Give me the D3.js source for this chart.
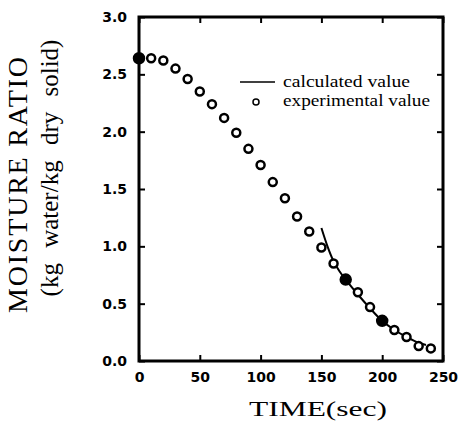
<!DOCTYPE html>
<html>
<head>
<meta charset="utf-8">
<script src="https://cdn.jsdelivr.net/npm/d3@7"></script>
<style>
  body { margin: 0; background: #fff; }
  svg { display: block; }
</style>
</head>
<body>
<div id="chart"></div>
<script>
'use strict';

// experimental points
var expTime = [0, 10, 20, 30, 40, 50, 60, 70, 80, 90, 100, 110, 120,
  130, 140, 150, 160, 170, 180, 190, 200, 210, 220, 230, 240];
var expMoisture = [2.64, 2.64, 2.62, 2.55, 2.46, 2.35, 2.24, 2.12, 1.99, 1.85, 1.71, 1.56, 1.42,
  1.26, 1.13, 0.99, 0.85, 0.71, 0.60, 0.47, 0.35, 0.27, 0.21, 0.13, 0.11];
var expFilled = [true, false, false, false, false, false, false, false, false, false, false, false, false,
  false, false, false, false, true, false, false, true, false, false, false, false];

// calculated curve
var calcTime = [150, 155, 160, 165, 170, 180, 190, 200, 210, 220, 230, 236];
var calcMoisture = [1.16, 1.0, 0.87, 0.78, 0.71, 0.58, 0.46, 0.35, 0.27, 0.21, 0.16, 0.14];

var xTicks = [0, 50, 100, 150, 200, 250];
var yTicks = [0.0, 0.5, 1.0, 1.5, 2.0, 2.5, 3.0];

var W = 458, H = 422;
var plotLeft = 139, plotRight = 443, plotTop = 17, plotBottom = 361;

var svg = d3.select('#chart')
  .append('svg')
  .attr('width', W)
  .attr('height', H);

var x = d3.scaleLinear().domain([0, 250]).range([plotLeft, plotRight]);
var y = d3.scaleLinear().domain([0, 3]).range([plotBottom, plotTop]);

var tickFont = '"DejaVu Sans", sans-serif';
var serif = '"Liberation Serif", "DejaVu Serif", serif';

// inward ticks on all four sides
svg.append('g')
  .attr('transform', 'translate(0,' + plotBottom + ')')
  .call(d3.axisBottom(x).tickValues(xTicks).tickSizeInner(-6).tickSizeOuter(0).tickPadding(11)
    .tickFormat(d3.format('d')))
  .call(function(g) { g.select('.domain').remove(); });

svg.append('g')
  .attr('transform', 'translate(0,' + plotTop + ')')
  .call(d3.axisTop(x).tickValues(xTicks).tickSizeInner(-6).tickSizeOuter(0).tickFormat(''))
  .call(function(g) { g.select('.domain').remove(); });

svg.append('g')
  .attr('transform', 'translate(' + plotLeft + ',0)')
  .call(d3.axisLeft(y).tickValues(yTicks).tickSizeInner(-6).tickSizeOuter(0).tickPadding(12)
    .tickFormat(d3.format('.1f')))
  .call(function(g) { g.select('.domain').remove(); });

svg.append('g')
  .attr('transform', 'translate(' + plotRight + ',0)')
  .call(d3.axisRight(y).tickValues(yTicks).tickSizeInner(-6).tickSizeOuter(0).tickFormat(''))
  .call(function(g) { g.select('.domain').remove(); });

svg.selectAll('.tick line')
  .attr('stroke', '#000')
  .attr('stroke-width', 2);

svg.selectAll('.tick text')
  .attr('fill', '#000')
  .style('font-family', tickFont)
  .style('font-size', '14px')
  .style('font-weight', 'bold');

// frame
svg.append('rect')
  .attr('x', plotLeft)
  .attr('y', plotTop)
  .attr('width', plotRight - plotLeft)
  .attr('height', plotBottom - plotTop)
  .attr('fill', 'none')
  .attr('stroke', '#000')
  .attr('stroke-width', 3);

// calculated line
var line = d3.line()
  .x(function(d, i) { return x(calcTime[i]); })
  .y(function(d) { return y(d); })
  .curve(d3.curveMonotoneX);

svg.append('path')
  .datum(calcMoisture)
  .attr('d', line)
  .attr('fill', 'none')
  .attr('stroke', '#000')
  .attr('stroke-width', 2);

// experimental points
svg.selectAll('circle.exp')
  .data(expMoisture)
  .enter()
  .append('circle')
  .attr('class', 'exp')
  .attr('cx', function(d, i) { return x(expTime[i]); })
  .attr('cy', function(d) { return y(d); })
  .attr('r', function(d, i) { return expFilled[i] ? 5 : 4; })
  .attr('fill', function(d, i) { return expFilled[i] ? '#000' : '#fff'; })
  .attr('stroke', '#000')
  .attr('stroke-width', 2.5);

// legend
svg.append('line')
  .attr('x1', 240).attr('x2', 275)
  .attr('y1', 82).attr('y2', 82)
  .attr('stroke', '#000')
  .attr('stroke-width', 1.5);

svg.append('circle')
  .attr('cx', 256).attr('cy', 102)
  .attr('r', 3)
  .attr('fill', 'none')
  .attr('stroke', '#000')
  .attr('stroke-width', 1.5);

svg.append('text')
  .attr('x', 283).attr('y', 87)
  .attr('textLength', 127)
  .attr('lengthAdjust', 'spacingAndGlyphs')
  .style('font-family', serif)
  .style('font-size', '17px')
  .text('calculated value');

svg.append('text')
  .attr('x', 283).attr('y', 106)
  .attr('textLength', 147)
  .attr('lengthAdjust', 'spacingAndGlyphs')
  .style('font-family', serif)
  .style('font-size', '17px')
  .text('experimental value');

// axis titles
svg.append('text')
  .attr('x', 318).attr('y', 416)
  .attr('text-anchor', 'middle')
  .attr('textLength', 138)
  .attr('lengthAdjust', 'spacingAndGlyphs')
  .style('font-family', serif)
  .style('font-size', '22px')
  .text('TIME(sec)');

svg.append('text')
  .attr('transform', 'translate(27,185) rotate(-90)')
  .attr('text-anchor', 'middle')
  .attr('textLength', 256)
  .attr('lengthAdjust', 'spacing')
  .style('font-family', serif)
  .style('font-size', '28px')
  .text('MOISTURE RATIO');

svg.append('text')
  .attr('transform', 'translate(58,168) rotate(-90)')
  .attr('text-anchor', 'middle')
  .style('font-family', serif)
  .style('font-size', '25px')
  .style('word-spacing', '9px')
  .text('(kg water/kg dry solid)');
</script>
</body>
</html>
